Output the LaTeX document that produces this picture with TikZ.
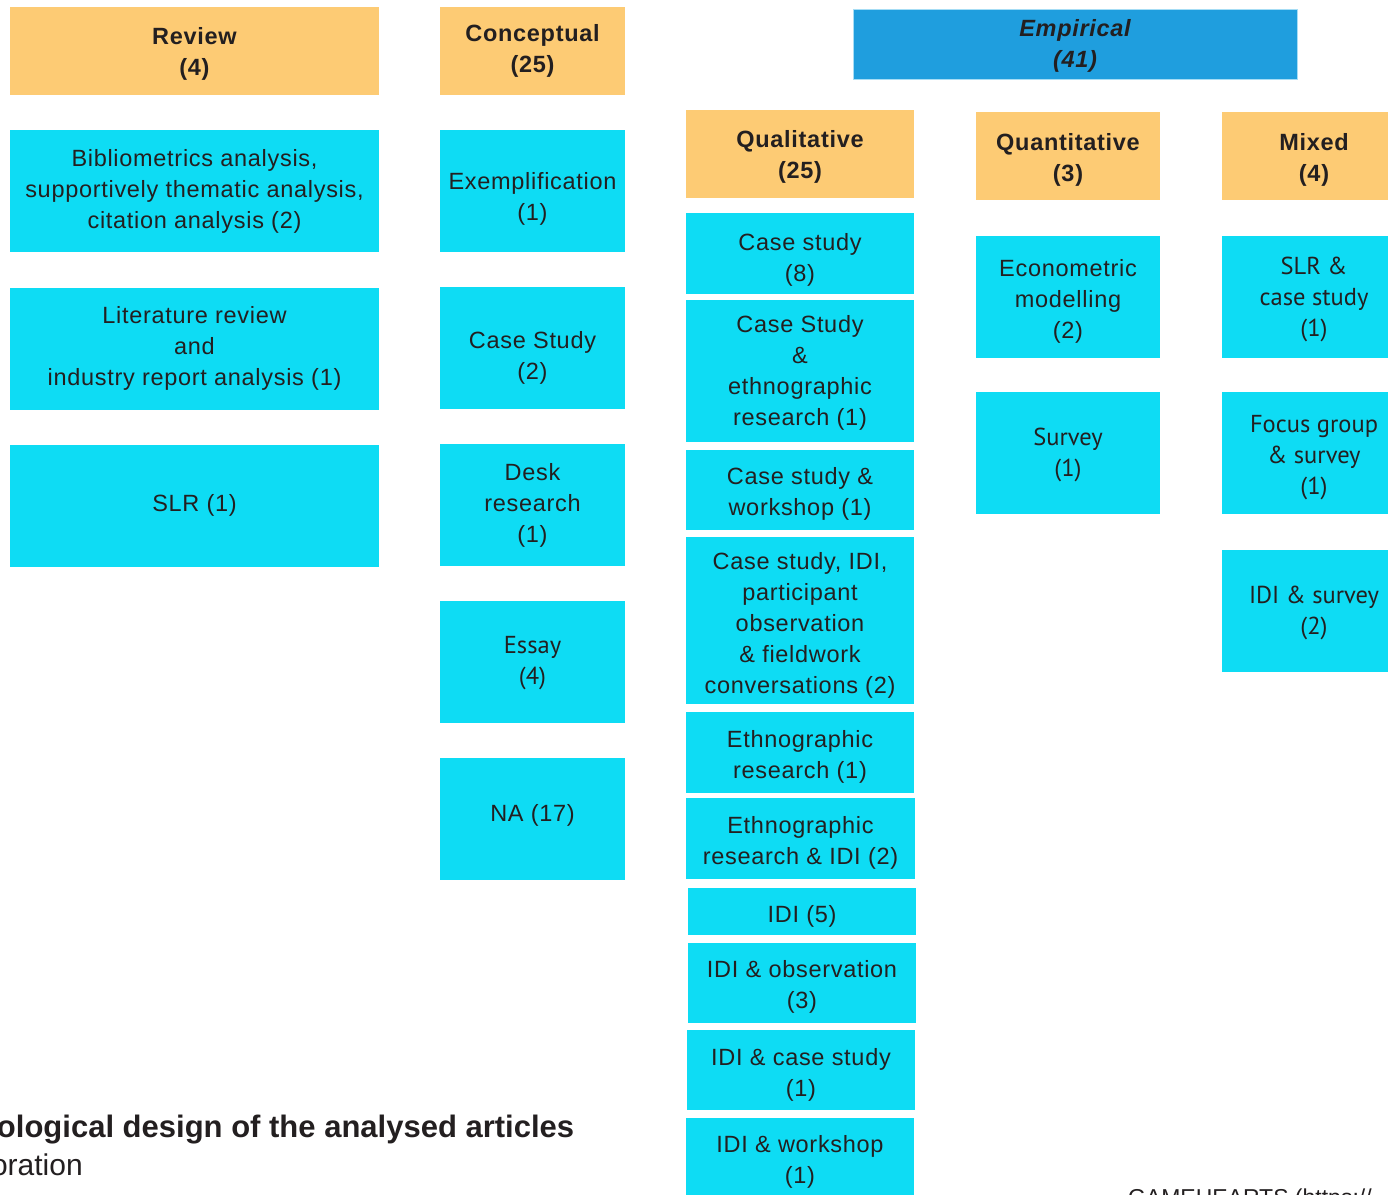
\documentclass[tikz,border=0pt]{standalone}
\usepackage{fontspec}
\setmainfont[LetterSpace=3]{Liberation Sans}
\newfontfamily\capfont{Liberation Sans}
\newfontfamily\myriad{PT Sans}
\definecolor{hdr}{HTML}{FDCB74}
\definecolor{cy}{HTML}{0EDCF4}
\definecolor{emp}{HTML}{1F9EDE}
\definecolor{empb}{HTML}{A6DDF5}
\definecolor{ink}{HTML}{231F20}
% text block: optional downward shift (pt), lines separated by \\
\newcommand\bt[2][0]{\raisebox{-#1pt}[\height][\depth]{\begin{tabular}{@{}c@{}}#2\end{tabular}}}
\tikzset{
  base/.style={inner sep=0pt, outer sep=0pt, align=center, text=ink,
    font=\fontsize{23.5}{31}\selectfont},
  hbox/.style={base, fill=hdr, font=\fontsize{23.5}{31}\selectfont\bfseries},
  cbox/.style={base, fill=cy},
  mbox/.style={base, fill=cy, font=\fontsize{24.5}{31}\selectfont\myriad},
  ebox/.style={base, fill=emp, draw=empb, line width=1pt,
    font=\fontsize{23.5}{31}\selectfont\bfseries\itshape},
  captxt/.style={inner sep=0pt, outer sep=0pt, text=ink, anchor=base west}
}
\begin{document}
\begin{tikzpicture}[x=1pt,y=-1pt]
\useasboundingbox (0,0) rectangle (1388,1194);
\clip (0,0) rectangle (1388,1194);
% Review column
\node[hbox, minimum width=369pt, minimum height=88pt] (rev) at (194.5,51) {\bt[3]{Review\\(4)}};
\node[cbox, minimum width=369pt, minimum height=122pt] (bib) at (194.5,191) {\bt{Bibliometrics analysis,\\supportively thematic analysis,\\citation analysis (2)}};
\node[cbox, minimum width=369pt, minimum height=122pt] (lit) at (194.5,349) {\bt[-1]{Literature review\\and\\industry report analysis (1)}};
\node[cbox, minimum width=369pt, minimum height=122pt] (slr) at (194.5,506) {\bt[-1]{SLR (1)}};
% Conceptual column
\node[hbox, minimum width=185pt, minimum height=88pt] (con) at (532.5,51) {\bt{Conceptual\\(25)}};
\node[cbox, minimum width=185pt, minimum height=122pt] (exe) at (532.5,191) {\bt[8]{Exemplification\\(1)}};
\node[cbox, minimum width=185pt, minimum height=122pt] (csc) at (532.5,348) {\bt[10]{Case Study\\(2)}};
\node[cbox, minimum width=185pt, minimum height=122pt] (desk) at (532.5,505) {\bt{Desk\\research\\(1)}};
\node[mbox, minimum width=185pt, minimum height=122pt] (ess) at (532.5,662) {\bt[1]{Essay\\(4)}};
\node[cbox, minimum width=185pt, minimum height=122pt] (na) at (532.5,819) {\bt[-4]{NA (17)}};
% Empirical
\node[ebox, minimum width=444pt, minimum height=70pt] (emp) at (1075,44) {\bt[2]{Empirical\\(41)}};
% Qualitative column
\node[hbox, minimum width=228pt, minimum height=88pt] (qual) at (800,154) {\bt[3]{Qualitative\\(25)}};
\node[cbox, minimum width=228pt, minimum height=81pt] (q1) at (800,253.5) {\bt[6]{Case study\\(8)}};
\node[cbox, minimum width=228pt, minimum height=142pt] (q2) at (800,371) {\bt[2]{Case Study\\\&\\ethnographic\\research (1)}};
\node[cbox, minimum width=228pt, minimum height=80pt] (q3) at (800,490) {\bt[4]{Case study \&\\workshop (1)}};
\node[cbox, minimum width=228pt, minimum height=167pt] (q4) at (800,620.5) {\bt[5]{Case study, IDI,\\participant\\observation\\\& fieldwork\\conversations (2)}};
\node[cbox, minimum width=228pt, minimum height=81pt] (q5) at (800,752.5) {\bt[4]{Ethnographic\\research (1)}};
\node[cbox, minimum width=229pt, minimum height=81pt] (q6) at (800.5,838.5) {\bt[4]{Ethnographic\\research \& IDI (2)}};
\node[cbox, minimum width=228pt, minimum height=47pt] (q7) at (802,911.5) {\bt[5]{IDI (5)}};
\node[cbox, minimum width=228pt, minimum height=80pt] (q8) at (802,983) {\bt[4]{IDI \& observation\\(3)}};
\node[cbox, minimum width=228pt, minimum height=80pt] (q9) at (801,1070) {\bt[5]{IDI \& case study\\(1)}};
\node[cbox, minimum width=228pt, minimum height=82pt] (q10) at (800,1159) {\bt[3]{IDI \& workshop\\(1)}};
% Quantitative column
\node[hbox, minimum width=184pt, minimum height=88pt] (quan) at (1068,156) {\bt[4]{Quantitative\\(3)}};
\node[cbox, minimum width=184pt, minimum height=122pt] (eco) at (1068,297) {\bt[4]{Econometric\\modelling\\(2)}};
\node[mbox, minimum width=184pt, minimum height=122pt] (sur) at (1068,453) {\bt[2]{Survey\\(1)}};
% Mixed column
\node[hbox, minimum width=184pt, minimum height=88pt] (mix) at (1314,156) {\bt[4]{Mixed\\(4)}};
\node[mbox, minimum width=184pt, minimum height=122pt] (m1) at (1314,297) {\bt[2]{SLR \&\\case study\\(1)}};
\node[mbox, minimum width=184pt, minimum height=122pt] (m2) at (1314,453) {\bt[4]{Focus group\\\& survey\\(1)}};
\node[mbox, minimum width=184pt, minimum height=122pt] (m3) at (1314,611) {\bt[2]{IDI \& survey\\(2)}};
% caption fragments
\node[captxt, font=\fontsize{31}{36}\selectfont\capfont\bfseries] (cap1) at (-3,1137) {ological design of the analysed articles};
\node[captxt, font=\fontsize{30}{36}\selectfont\capfont] (cap2) at (-9,1175) {oration};
\node[captxt, font=\fontsize{23}{26}\selectfont\capfont] (cap3) at (1128,1205) {GAMEHEARTS (https://};
\end{tikzpicture}
\end{document}
